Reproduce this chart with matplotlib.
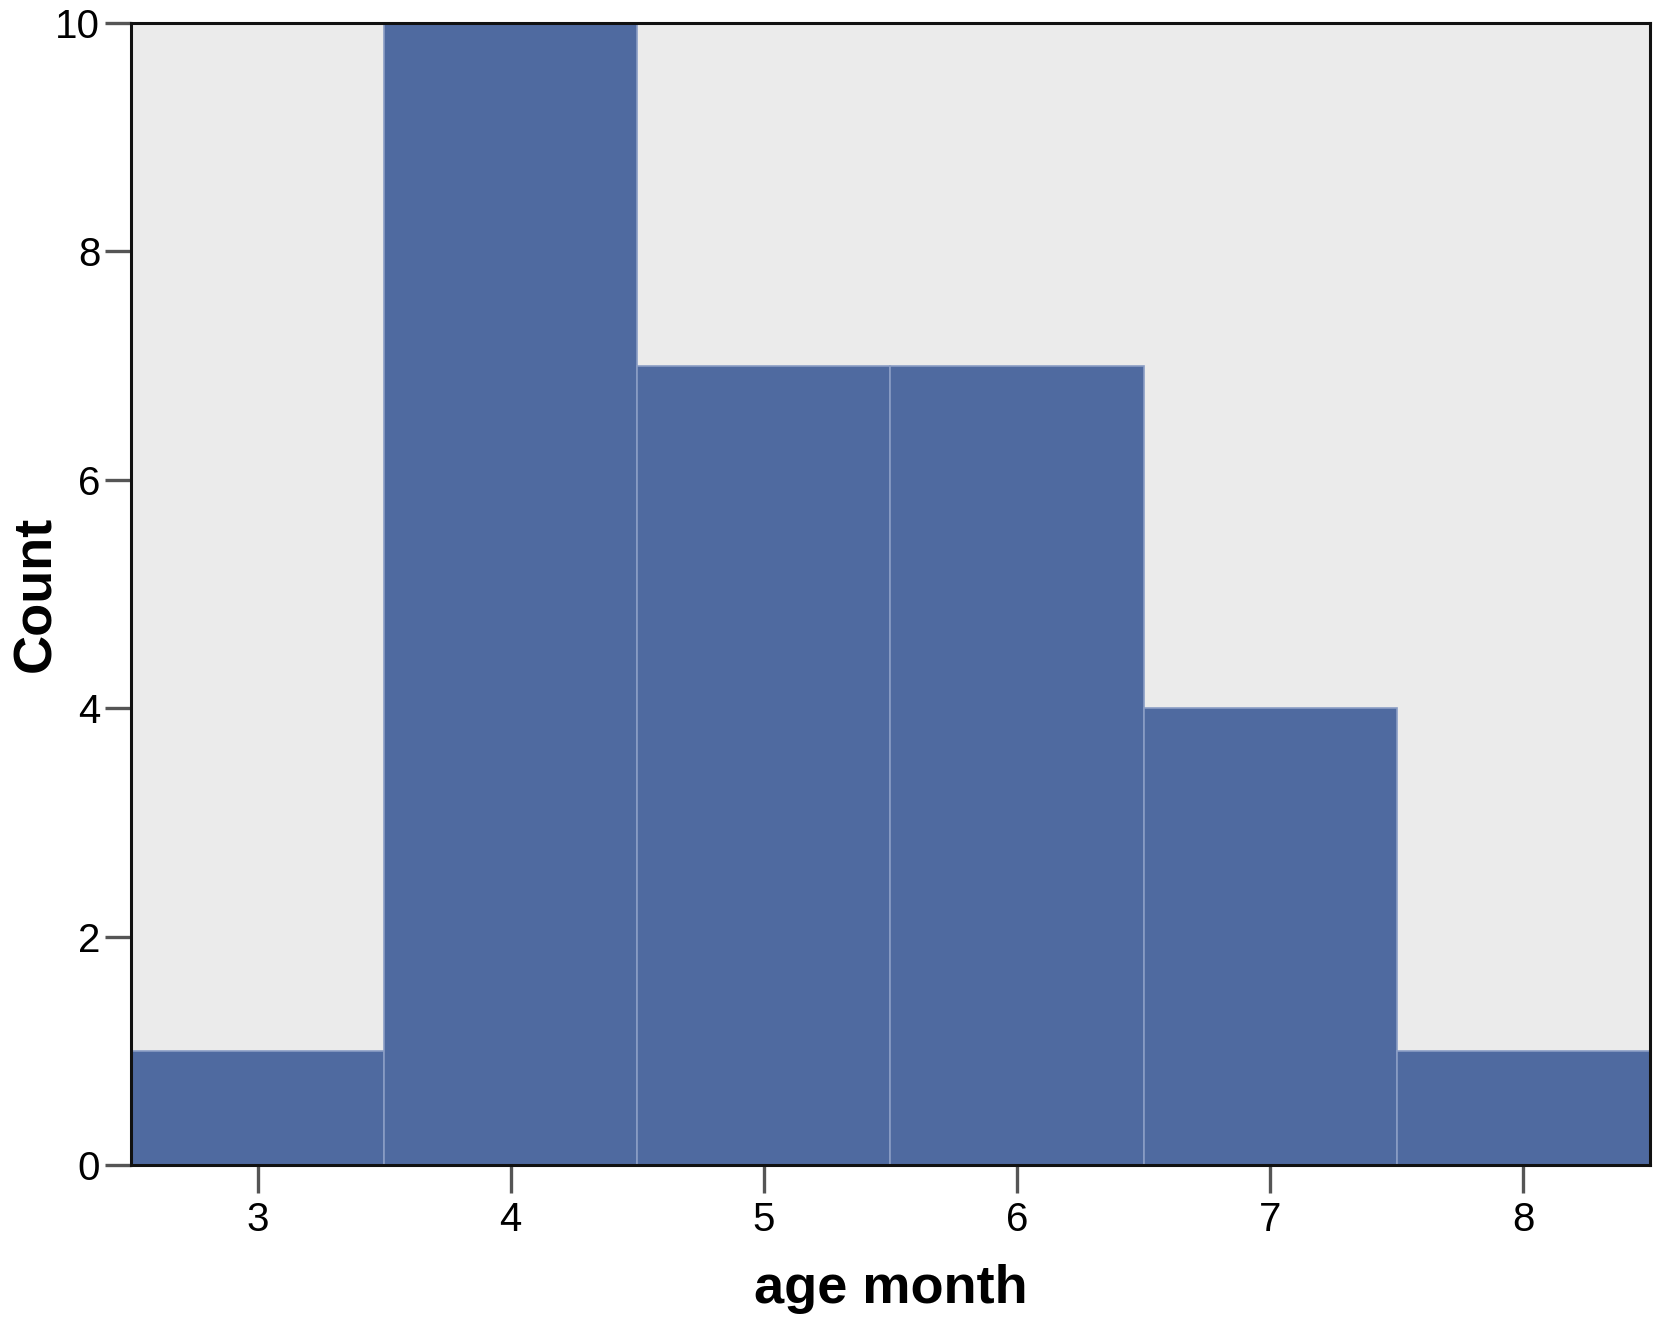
import matplotlib.pyplot as plt
import numpy as np

plt.rcParams['font.family'] = ['Liberation Sans', 'DejaVu Sans']

# histogram of age in months
ages = [3, 4, 5, 6, 7, 8]
counts = [1, 10, 7, 7, 4, 1]
yticks = [0, 2, 4, 6, 8, 10]

fig = plt.figure(figsize=(16.70, 13.31), dpi=100)
ax = fig.add_axes([0.0784, 0.1247, 0.9096, 0.858])
ax.set_facecolor('#EBEBEB')

ax.bar(ages, counts, width=1.0, color='#4F6AA0',
       edgecolor='#8A9DC5', linewidth=1.2, zorder=2)

ax.set_xlim(2.5, 8.5)
ax.set_ylim(0, 10)
ax.set_xticks(ages)
ax.set_yticks(yticks)

for side in ['left', 'bottom', 'top', 'right']:
    ax.spines[side].set_linewidth(2.2)
    ax.spines[side].set_color('#111111')
    ax.spines[side].set_zorder(3)

ax.tick_params(axis='both', direction='out', width=2.4,
               color='#555555', labelsize=29, labelcolor='black')
ax.tick_params(axis='x', length=20, pad=6)
ax.tick_params(axis='y', length=19, pad=3)

ax.set_xlabel('age month', fontsize=39, fontweight='bold', labelpad=18)
ax.set_ylabel('Count', fontsize=39, fontweight='bold')
ax.yaxis.set_label_coords(-0.046, 0.5)

fig.savefig('out.png', dpi=100)
